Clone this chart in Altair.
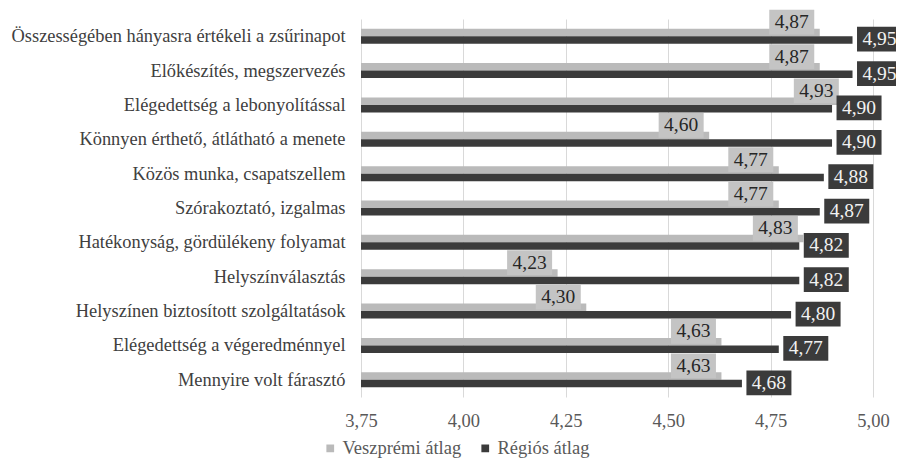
import altair as alt
import pandas as pd

categories = [
    "Összességében hányasra értékeli a zsűrinapot",
    "Előkészítés, megszervezés",
    "Elégedettség a  lebonyolítással",
    "Könnyen érthető, átlátható a menete",
    "Közös munka, csapatszellem",
    "Szórakoztató, izgalmas",
    "Hatékonyság, gördülékeny folyamat",
    "Helyszínválasztás",
    "Helyszínen biztosított szolgáltatások",
    "Elégedettség a végeredménnyel",
    "Mennyire volt fárasztó",
]
veszpremi = [4.87, 4.87, 4.93, 4.60, 4.77, 4.77, 4.83, 4.23, 4.30, 4.63, 4.63]
regios = [4.95, 4.95, 4.90, 4.90, 4.88, 4.87, 4.82, 4.82, 4.80, 4.77, 4.68]
series_names = ["Veszprémi átlag", "Régiós átlag"]
tick_values = [3.75, 4.00, 4.25, 4.50, 4.75, 5.00]

rows = []
for c, v, r in zip(categories, veszpremi, regios):
    rows.append({"cat": c, "series": series_names[0], "value": v,
                 "label": f"{v:.2f}".replace(".", ",")})
    rows.append({"cat": c, "series": series_names[1], "value": r,
                 "label": f"{r:.2f}".replace(".", ",")})
df = pd.DataFrame(rows)

FONT = "Liberation Serif, Times New Roman, DejaVu Serif, serif"
LIGHT = "#bababa"
DARK = "#3b3b3b"
LIGHT_BOX = "#c4c4c4"
BOX = "M-1,-0.55L1,-0.55L1,0.55L-1,0.55Z"

x = alt.X(
    "value:Q",
    scale=alt.Scale(domain=[3.75, 5.0], nice=False, zero=False),
    axis=alt.Axis(
        values=tick_values,
        labelExpr="replace(format(datum.value, '.2f'), '.', ',')",
        grid=True, gridColor="#d9d9d9", gridWidth=1,
        ticks=False, domain=False, labelFlush=False,
        labelFont=FONT, labelFontSize=18.5, labelColor="#595959",
        labelPadding=14, title=None,
    ),
)
y = alt.Y(
    "cat:N",
    sort=categories,
    scale=alt.Scale(paddingInner=0, paddingOuter=0),
    axis=alt.Axis(
        title=None, ticks=False, domain=False, grid=False,
        labelFont=FONT, labelFontSize=18.4, labelColor="#404040",
        labelPadding=16, labelLimit=500,
    ),
)
color = alt.Color(
    "series:N",
    scale=alt.Scale(domain=series_names, range=[LIGHT, DARK]),
    legend=alt.Legend(
        orient="none", legendX=-40, legendY=420, direction="horizontal",
        title=None, symbolType="square", symbolSize=60, symbolStrokeWidth=0,
        labelFont=FONT, labelFontSize=18.5, labelColor="#595959",
        labelOffset=3, columnPadding=14, padding=0,
    ),
)

base = alt.Chart(df)
is_v = alt.datum.series == series_names[0]
is_r = alt.datum.series == series_names[1]

bars_v = base.transform_filter(is_v).mark_bar(height=7.5, yOffset=-3.75).encode(
    x=x, x2=alt.datum(3.75), y=y, color=color)
bars_r = base.transform_filter(is_r).mark_bar(height=7.5, yOffset=3.75).encode(
    x=x, x2=alt.datum(3.75), y=y, color=color)

box_v = base.transform_filter(is_v).mark_point(
    shape=BOX, size=2025, filled=True, opacity=1, color=LIGHT_BOX,
    strokeWidth=0, xOffset=-28, yOffset=-14).encode(x=x, y=y)
box_r = base.transform_filter(is_r).mark_point(
    shape=BOX, size=2025, filled=True, opacity=1, color=DARK,
    strokeWidth=0, xOffset=27, yOffset=3).encode(x=x, y=y)

txt_v = base.transform_filter(is_v).mark_text(
    font=FONT, fontSize=19.5, color="#262626", dx=-28, dy=-14,
    align="center", baseline="middle").encode(x=x, y=y, text="label:N")
txt_r = base.transform_filter(is_r).mark_text(
    font=FONT, fontSize=19.5, color="#f2f2f2", dx=27, dy=3,
    align="center", baseline="middle").encode(x=x, y=y, text="label:N")

chart = alt.layer(bars_v, bars_r, box_v, box_r, txt_v, txt_r).properties(
    width=512, height=378,
    autosize=alt.AutoSizeParams(type="none"),
    padding={"left": 353, "top": 11, "right": 23, "bottom": 62},
).configure_view(stroke=None)

chart.save("out.html", embed_options={"renderer": "svg", "actions": False})
